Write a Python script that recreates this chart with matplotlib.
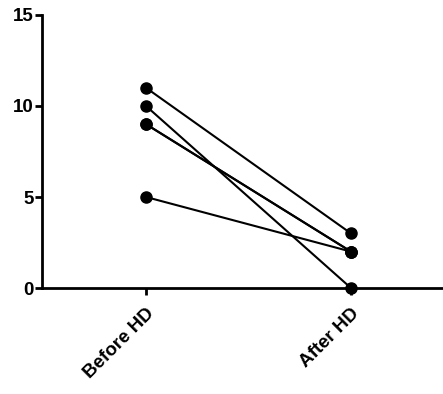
import matplotlib
matplotlib.use('Agg')
from matplotlib import pyplot as plt

groups = ['Before HD', 'After HD']
before = [11, 10, 9, 9, 5]
after = [3, 0, 2, 2, 2]
yticks = [0, 5, 10, 15]

plt.rcParams['font.family'] = ['Liberation Sans', 'DejaVu Sans']
plt.rcParams['font.weight'] = 'bold'

fig = plt.figure(figsize=(4.43, 3.94), dpi=100)
ax = fig.add_axes([0.095, 0.269, 0.905, 0.693])

for b, a in zip(before, after):
    ax.plot([0, 1], [b, a], color='black', linewidth=1.5, marker='o',
            markersize=8, clip_on=False, zorder=3)

ax.set_xlim(-0.507, 1.449)
ax.set_ylim(0, 15)
ax.set_yticks(yticks)
ax.set_xticks([0, 1])
ax.set_xticklabels(groups, rotation=45, ha='right', rotation_mode='anchor')
for s in ['top', 'right']:
    ax.spines[s].set_visible(False)
for s in ['left', 'bottom']:
    ax.spines[s].set_linewidth(2)
ax.tick_params(width=2, length=5, labelsize=13.5, direction='out')
ax.tick_params(axis='x', pad=7)
ax.tick_params(axis='y', pad=1)

plt.savefig('out.png', dpi=100)
